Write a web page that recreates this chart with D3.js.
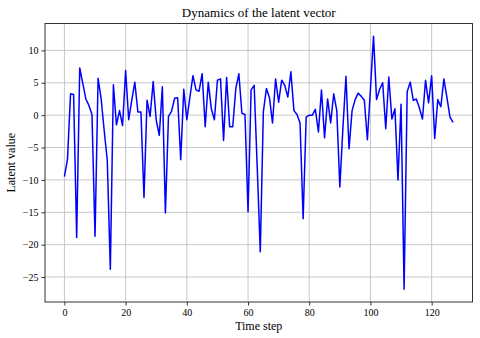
<!DOCTYPE html>
<html>
<head>
<meta charset="utf-8">
<script src="https://cdn.jsdelivr.net/npm/d3@7"></script>
<style>
  body { margin: 0; background: #fff; }
  text { font-family: "Liberation Serif", "DejaVu Serif", serif; fill: #000; }
</style>
</head>
<body>
<div id="chart"></div>
<script>
// latent value per time step
var latent = [
  -9.5, -6.8, 3.3, 3.2, -18.9, 7.3, 4.9, 2.5, 1.5, 0.1,
  -18.7, 5.7, 2.5, -2.4, -7.0, -23.8, 4.7, -1.5, 0.7, -1.6,
  6.9, -0.7, 2.3, 5.1, 0.5, 0.5, -12.7, 2.3, -0.2, 5.2,
  -0.8, -3.1, 4.4, -15.1, -0.2, 0.6, 2.6, 2.7, -6.9, 4.0,
  -0.7, 2.8, 6.1, 3.9, 3.7, 6.4, -1.8, 5.1, 1.0, -0.7,
  5.4, 5.6, -3.9, 5.8, -1.8, -1.8, 4.1, 6.4, 0.3, 0.1,
  -14.9, 3.9, 4.6, -8.0, -21.1, 0.5, 4.1, 2.7, -1.2, 5.6,
  2.0, 5.4, 4.6, 2.8, 6.7, 0.7, 0.1, -1.2, -16.0, -0.3,
  0.0, 0.0, 0.9, -2.6, 3.9, -3.5, 2.5, -1.2, 3.3, 0.7,
  -11.1, -2.0, 6.0, -5.2, 0.7, 2.4, 3.4, 2.9, 2.3, -3.8,
  4.0, 12.2, 2.4, 4.0, 5.0, -2.1, 5.9, -0.6, 1.0, -10.0,
  1.7, -26.9, 3.6, 5.1, 2.3, 2.5, 1.1, -0.6, 5.4, 1.9,
  6.1, -3.6, 2.4, 1.3, 5.6, 2.7, -0.3, -1.1
];
var xTicks = [0, 20, 40, 60, 80, 100, 120];
var yTicks = [10, 5, 0, -5, -10, -15, -20, -25];

var width = 480, height = 338;
var margin = { top: 23.5, right: 7.5, bottom: 36, left: 45 };

var svg = d3.select("#chart").append("svg")
    .attr("width", width)
    .attr("height", height);

// matplotlib style 5% padding
var n = latent.length - 1;
var yMin = d3.min(latent), yMax = d3.max(latent);
var yPad = (yMax - yMin) * 0.05;

var x = d3.scaleLinear()
    .domain([-n * 0.05, n * 1.05])
    .range([margin.left, width - margin.right]);
var y = d3.scaleLinear()
    .domain([yMin - yPad, yMax + yPad])
    .range([height - margin.bottom, margin.top]);

// grid
svg.append("g").selectAll("line").data(xTicks).enter().append("line")
    .attr("x1", function(d) { return x(d); })
    .attr("x2", function(d) { return x(d); })
    .attr("y1", margin.top)
    .attr("y2", height - margin.bottom)
    .attr("stroke", "#c8c8c8")
    .attr("stroke-width", 1);
svg.append("g").selectAll("line").data(yTicks).enter().append("line")
    .attr("x1", margin.left)
    .attr("x2", width - margin.right)
    .attr("y1", function(d) { return y(d); })
    .attr("y2", function(d) { return y(d); })
    .attr("stroke", "#c8c8c8")
    .attr("stroke-width", 1);

// the series
var line = d3.line()
    .x(function(d, i) { return x(i); })
    .y(function(d) { return y(d); });
svg.append("path")
    .datum(latent)
    .attr("d", line)
    .attr("fill", "none")
    .attr("stroke", "#0000ff")
    .attr("stroke-width", 1.5)
    .attr("stroke-linejoin", "round");

// axes
var fmt = function(d) { return d < 0 ? "\u2212" + Math.abs(d) : d; };
var xAxis = svg.append("g")
    .attr("transform", "translate(0," + (height - margin.bottom) + ")")
    .call(d3.axisBottom(x).tickValues(xTicks).tickSize(3.5).tickPadding(3).tickFormat(fmt));
var yAxis = svg.append("g")
    .attr("transform", "translate(" + margin.left + ",0)")
    .call(d3.axisLeft(y).tickValues(yTicks).tickSize(3.5).tickPadding(3).tickFormat(fmt));
[xAxis, yAxis].forEach(function(a) {
  a.select(".domain").remove();
  a.selectAll("line").attr("stroke", "#333");
  a.selectAll("text")
     .attr("font-family", "Liberation Serif, serif")
     .attr("font-size", "10px")
     .attr("fill", "#000");
});

// frame
svg.append("rect")
    .attr("x", margin.left)
    .attr("y", margin.top)
    .attr("width", width - margin.left - margin.right)
    .attr("height", height - margin.top - margin.bottom)
    .attr("fill", "none")
    .attr("stroke", "#333")
    .attr("stroke-width", 1);

// labels
svg.append("text")
    .attr("x", (margin.left + width - margin.right) / 2)
    .attr("y", 17)
    .attr("text-anchor", "middle")
    .attr("font-size", "13px")
    .text("Dynamics of the latent vector");
svg.append("text")
    .attr("x", (margin.left + width - margin.right) / 2)
    .attr("y", 330)
    .attr("text-anchor", "middle")
    .attr("font-size", "12px")
    .text("Time step");
svg.append("text")
    .attr("transform", "translate(15," + ((margin.top + height - margin.bottom) / 2) + ") rotate(-90)")
    .attr("text-anchor", "middle")
    .attr("font-size", "12px")
    .text("Latent value");
</script>
</body>
</html>
